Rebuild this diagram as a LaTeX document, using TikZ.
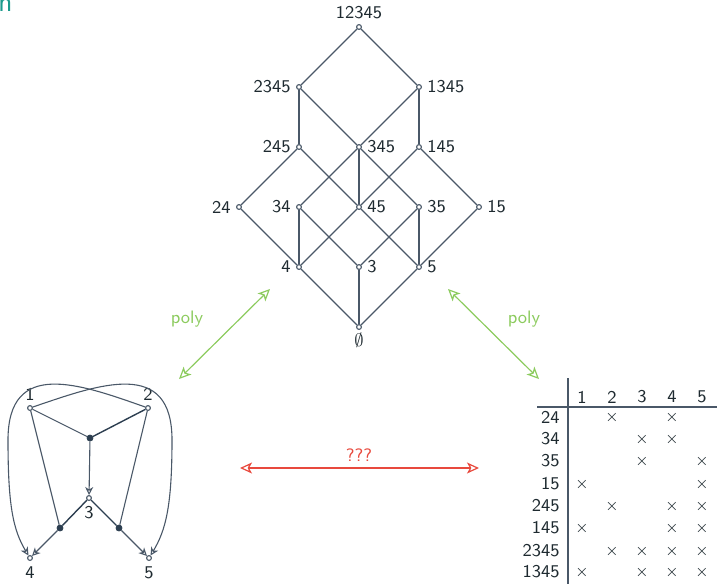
\documentclass[tikz,border=0pt]{standalone}
\usetikzlibrary{arrows.meta}
\definecolor{slate}{HTML}{4A5868}
\definecolor{ink}{HTML}{1E2A30}
\definecolor{dotfill}{HTML}{2C3E50}
\definecolor{polygreen}{HTML}{8CCB5E}
\definecolor{qred}{HTML}{E8493D}
\definecolor{titleteal}{HTML}{1B9A8C}
\begin{document}
\begin{tikzpicture}[x=0.5pt,y=-0.5pt,
  txt/.style={font=\sffamily\fontsize{9}{11}\selectfont, text=ink},
  lbl/.style={txt, inner sep=2.5pt},
  vtx/.style={circle, draw=slate, fill=white, line width=0.55pt, inner sep=0pt, minimum size=2.4pt},
  dot/.style={circle, draw=dotfill, fill=dotfill, inner sep=0pt, minimum size=3pt},
  edge/.style={draw=slate, line width=0.55pt},
  thickedge/.style={draw=dotfill, line width=0.7pt},
  harrow/.style={edge, -{Stealth[open, length=4pt, width=4pt, inset=1.2pt]}},
  twoway/.style={line width=0.6pt, {Stealth[open, length=6pt, width=5.5pt, inset=1.5pt]}-{Stealth[open, length=6pt, width=5.5pt, inset=1.5pt]}},
  crs/.style={font=\fontsize{8}{10}\selectfont, text=ink, inner sep=0pt}
]
\useasboundingbox (0,0) rectangle (717,584);

% frame title remnant, cut by the top-left corner
\node[anchor=base west, inner sep=0pt, text=titleteal, font=\sffamily\fontsize{14}{16}\selectfont] (ttl) at (-2,11) {n};

% ---------- lattice of subsets ----------
\node[vtx, label={[lbl]above:12345}] (v12345) at (359,27) {};
\node[vtx, label={[lbl]left:2345}]   (v2345)  at (299,87) {};
\node[vtx, label={[lbl]right:1345}]  (v1345)  at (419,87) {};
\node[vtx, label={[lbl]left:245}]    (v245)   at (299,147) {};
\node[vtx, label={[lbl]right:345}]   (v345)   at (359,147) {};
\node[vtx, label={[lbl]right:145}]   (v145)   at (419,147) {};
\node[vtx, label={[lbl]left:24}]     (v24)    at (239,207) {};
\node[vtx, label={[lbl]left:34}]     (v34)    at (299,207) {};
\node[vtx, label={[lbl]right:45}]    (v45)    at (359,207) {};
\node[vtx, label={[lbl]right:35}]    (v35)    at (419,207) {};
\node[vtx, label={[lbl]right:15}]    (v15)    at (479,207) {};
\node[vtx, label={[lbl]left:4}]      (v4)     at (299,267) {};
\node[vtx, label={[lbl]right:3}]     (v3)     at (359,267) {};
\node[vtx, label={[lbl]right:5}]     (v5)     at (419,267) {};
\node[vtx, label={[lbl, inner sep=1.5pt]below:$\emptyset$}] (vempty) at (359,327) {};

\foreach \a/\b in {12345/2345, 12345/1345,
                   2345/245, 2345/345, 1345/345, 1345/145,
                   245/24, 245/45, 345/34, 345/45, 345/35, 145/45, 145/15,
                   24/4, 34/4, 34/3, 45/4, 45/5, 35/3, 35/5, 15/5,
                   4/empty, 3/empty, 5/empty}
  \draw[edge] (v\a) -- (v\b);

% ---------- hypergraph ----------
\node[vtx, label={[lbl, inner sep=2pt]above:1}] (h1) at (30,408) {};
\node[vtx, label={[lbl, inner sep=2pt]above:2}] (h2) at (148,408) {};
\node[vtx, label={[lbl, inner sep=2.5pt]below:3}] (h3) at (89,498) {};
\node[vtx, label={[lbl]below:4}] (h4) at (30,558) {};
\node[vtx, label={[lbl]below:5}] (h5) at (149,558) {};
\node[dot] (c12) at (90,438) {};
\node[dot] (c13) at (60,528) {};
\node[dot] (c23) at (119,528) {};

\draw[edge] (h1) -- (c12);
\draw[thickedge] (h2) -- (c12);
\draw[harrow] (c12) -- (h3);
\draw[thickedge] (h3) -- (c13);
\draw[edge] (h1) -- (c13);
\draw[harrow] (c13) -- (h4);
\draw[thickedge] (h3) -- (c23);
\draw[edge] (h2) -- (c23);
\draw[harrow] (c23) -- (h5);

\draw[harrow] (h1) .. controls (100,384) and (172,358) .. (172,440)
                   .. controls (172,505) and (166,530) .. (h5);
\draw[harrow] (h2) .. controls (80,384) and (8,358) .. (8,440)
                   .. controls (8,505) and (13,530) .. (h4);

% ---------- incidence table ----------
\foreach \c/\x in {1/582, 2/612, 3/642, 4/672, 5/702}
  \node[txt, inner sep=0pt] (col\c) at (\x,397) {\c};

\foreach \r/\y [count=\i] in {24/417, 34/439, 35/461, 15/484, 245/506, 145/528, 2345/551, 1345/572}
  \node[txt, inner sep=0pt, anchor=east] (row\i) at (560,\y) {\r};

\coordinate (hrA) at (537,407);
\coordinate (hrB) at (717,407);
\coordinate (vrA) at (568,378);
\coordinate (vrB) at (568,584);
\draw[edge] (hrA) -- (hrB);
\draw[edge] (vrA) -- (vrB);

\foreach \i/\cols in {1/{2,4}, 2/{3,4}, 3/{3,5}, 4/{1,5}, 5/{2,4,5}, 6/{1,4,5}, 7/{2,3,4,5}, 8/{1,3,4,5}}
  \foreach \c in \cols
    \node[crs] (x\i-\c) at (col\c |- row\i) {$\times$};

% ---------- correspondences ----------
\coordinate (plA) at (270,289);
\coordinate (plB) at (179,379);
\coordinate (prA) at (448,289);
\coordinate (prB) at (539,379);
\coordinate (qA) at (240,468);
\coordinate (qB) at (479,468);
\draw[twoway, draw=polygreen] (plA) -- (plB);
\draw[twoway, draw=polygreen] (prA) -- (prB);
\draw[twoway, draw=qred] (qA) -- (qB);
\node[txt, text=polygreen] (polyL) at (187,319) {poly};
\node[txt, text=polygreen] (polyR) at (524,319) {poly};
\node[txt, text=qred] (qq) at (359,455) {???};
\end{tikzpicture}
\end{document}
